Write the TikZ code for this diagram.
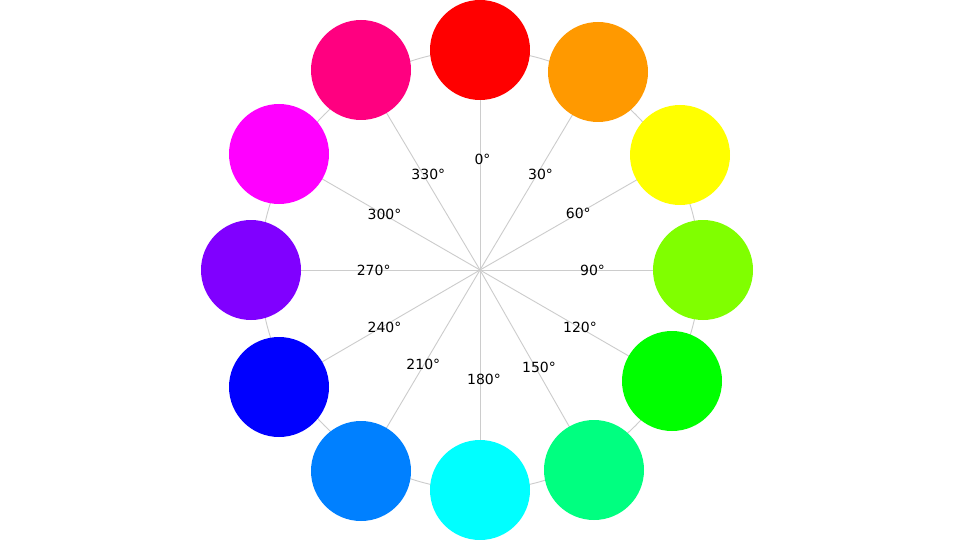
\documentclass[tikz,border=0pt]{standalone}
\usepackage{fontspec}
\setmainfont{DejaVu Sans}
\usetikzlibrary{backgrounds}
\definecolor{h0}{HTML}{FF0000}
\definecolor{h30}{HTML}{FF9900}
\definecolor{h60}{HTML}{FFFF00}
\definecolor{h90}{HTML}{80FF00}
\definecolor{h120}{HTML}{00FF00}
\definecolor{h150}{HTML}{00FF80}
\definecolor{h180}{HTML}{00FFFF}
\definecolor{h210}{HTML}{0080FF}
\definecolor{h240}{HTML}{0000FF}
\definecolor{h270}{HTML}{8000FF}
\definecolor{h300}{HTML}{FF00FF}
\definecolor{h330}{HTML}{FF0080}
\definecolor{linegray}{HTML}{CCCCCC}
\begin{document}
\begin{tikzpicture}[x=1pt,y=-1pt,
  hue/.style={circle,minimum size=100pt,inner sep=0pt,draw=none,fill=#1},
  guide/.style={draw=linegray,line width=0.9pt},
  deg/.style={font=\fontsize{14}{16}\selectfont,text=black,inner sep=0pt}]
\useasboundingbox (0,0) rectangle (960,540);
\coordinate (ctr) at (480,270);
\node[hue=h0]   (c0)   at (480,50)  {};
\node[hue=h30]  (c30)  at (598,72)  {};
\node[hue=h60]  (c60)  at (680,155) {};
\node[hue=h90]  (c90)  at (703,270) {};
\node[hue=h120] (c120) at (672,381) {};
\node[hue=h150] (c150) at (594,470) {};
\node[hue=h180] (c180) at (480,490) {};
\node[hue=h210] (c210) at (361,471) {};
\node[hue=h240] (c240) at (279,387) {};
\node[hue=h270] (c270) at (251,270) {};
\node[hue=h300] (c300) at (279,154) {};
\node[hue=h330] (c330) at (361,70)  {};
\begin{scope}[on background layer]
  \fill[white] (0,0) rectangle (960,540);
  \draw[guide] (ctr) circle[radius=220pt];
  \foreach \a in {0,30,60,90,120,150,180,210,240,270,300,330}
    \draw[guide] (ctr) -- (c\a.center);
\end{scope}
\node[deg] (l0)   at (482.5,159) {0°};
\node[deg] (l30)  at (540.5,174) {30°};
\node[deg] (l60)  at (578.3,213) {60°};
\node[deg] (l90)  at (592.5,270) {90°};
\node[deg] (l120) at (580,327.5) {120°};
\node[deg] (l150) at (539,367.5) {150°};
\node[deg] (l180) at (484,379)   {180°};
\node[deg] (l210) at (423.3,364) {210°};
\node[deg] (l240) at (384.5,327.5) {240°};
\node[deg] (l270) at (373.7,270) {270°};
\node[deg] (l300) at (384.5,214) {300°};
\node[deg] (l330) at (428.3,174) {330°};
\end{tikzpicture}
\end{document}
